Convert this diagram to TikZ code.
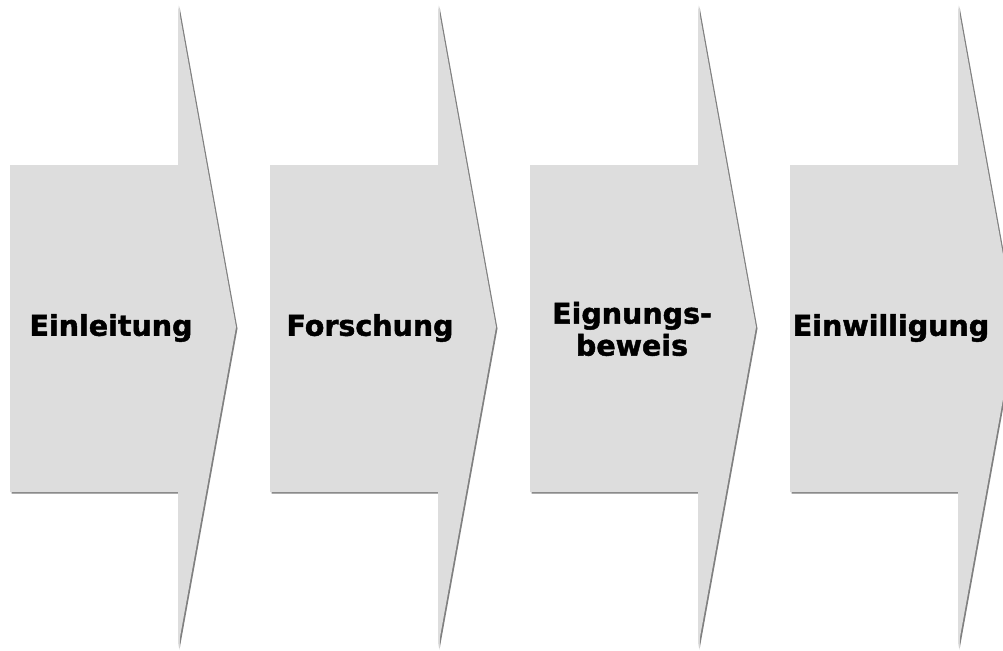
\documentclass[tikz,border=0pt]{standalone}
\usepackage{fontspec}
\setmainfont{DejaVu Sans}
\newfontfamily\heavyfont[FakeBold=1.6]{DejaVu Sans Bold}
\begin{document}
\begin{tikzpicture}[x=1pt,y=-1pt,
  stagefill/.style={fill={rgb,255:red,221;green,221;blue,221}, draw=none},
  stageshadow/.style={fill={rgb,255:red,128;green,128;blue,128}, draw=none},
  stagelabel/.style={font=\heavyfont\fontsize{28.5}{32}\selectfont, align=center, inner sep=0pt, text=black}]
\useasboundingbox (0,0) rectangle (1003,650);
\clip (0,0) rectangle (1003,650);
% chevron outline: body 168 wide, head from y=5 to y=648 with tip 58 past the body
\def\stage#1{%
  \fill[stageshadow, shift={(#1+1.5,1.5)}]
    (0,165) -- (168,165) -- (168,5) -- (226,327) -- (168,648) -- (168,492) -- (0,492) -- cycle;
  \fill[stagefill, shift={(#1,0)}]
    (0,165) -- (168,165) -- (168,5) -- (226,327) -- (168,648) -- (168,492) -- (0,492) -- cycle;}
\stage{10}
\stage{270}
\stage{530}
\stage{790}
\node[stagelabel] (s1) at (111,328) {Einleitung};
\node[stagelabel] (s2) at (370,328) {Forschung};
\node[stagelabel] (s3) at (632,329) {Eignungs-\\beweis};
\node[stagelabel] (s4) at (891,328) {Einwilligung};
\end{tikzpicture}
\end{document}
